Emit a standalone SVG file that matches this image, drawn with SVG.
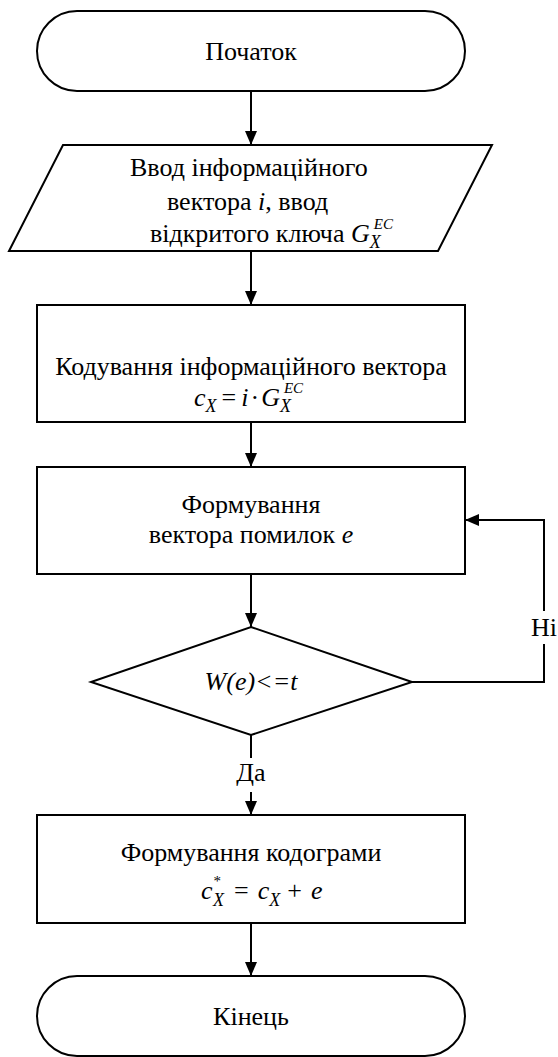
<svg xmlns="http://www.w3.org/2000/svg" width="558" height="1057" viewBox="0 0 558 1057">
<style>
.s{fill:none;stroke:#000;stroke-width:2}
.n{fill:#fff;stroke:#000;stroke-width:2}
text{font-family:'Liberation Serif','Times New Roman','DejaVu Serif',serif;font-size:26px;fill:#000}
.i{font-style:italic}
.c{text-anchor:middle}
.sm{font-size:18px}
.xs{font-size:15px}
</style>
<defs>
<marker id="ah" viewBox="0 0 14 12" refX="14" refY="6" markerWidth="14" markerHeight="12" markerUnits="userSpaceOnUse" orient="auto">
<path d="M0,0 L14,6 L0,12 Z" fill="#000"/>
</marker>
</defs>
<rect width="558" height="1057" fill="#fff"/>
<g id="connectors">
<line class="s" x1="251" y1="91" x2="251" y2="145" marker-end="url(#ah)"/>
<line class="s" x1="251" y1="251" x2="251" y2="305" marker-end="url(#ah)"/>
<line class="s" x1="251" y1="422" x2="251" y2="467" marker-end="url(#ah)"/>
<line class="s" x1="251" y1="574" x2="251" y2="627" marker-end="url(#ah)"/>
<line class="s" x1="251" y1="735" x2="251" y2="758"/>
<line class="s" x1="251" y1="792" x2="251" y2="815" marker-end="url(#ah)"/>
<text class="c" x="251" y="781">Да</text>
<polyline class="s" points="412,682 544,682 544,644"/>
<polyline class="s" points="544,611 544,520 465,520" marker-end="url(#ah)"/>
<text class="c" x="544" y="636">Ні</text>
<line class="s" x1="251" y1="923" x2="251" y2="976" marker-end="url(#ah)"/>
</g>
<g id="start">
<rect class="n" x="37" y="11" width="428" height="80" rx="40" ry="40"/>
<text class="c" x="251" y="60">Початок</text>
</g>
<g id="input">
<polygon class="n" points="63,145 492,145 438,251 9,251"/>
<text x="130" y="176">Ввод інформаційного</text>
<text x="167" y="210">вектора <tspan class="i">i</tspan>, ввод</text>
<text x="150" y="242">відкритого ключа <tspan class="i">G</tspan><tspan class="i sm" dy="6">X</tspan><tspan class="i xs" dx="-7" dy="-19">EC</tspan></text>
</g>
<g id="encode">
<rect class="n" x="37" y="305" width="428" height="117"/>
<text class="c" x="251" y="375">Кодування інформаційного вектора</text>
<text x="194" y="406"><tspan class="i">c</tspan><tspan class="i sm" dy="6">X</tspan><tspan dx="5" dy="-6">=</tspan><tspan class="i" dx="5">i</tspan><tspan dx="2">·</tspan><tspan class="i" dx="2">G</tspan><tspan class="i sm" dy="6">X</tspan><tspan class="i xs" dx="-7" dy="-19">EC</tspan></text>
</g>
<g id="errors">
<rect class="n" x="37" y="467" width="428" height="107"/>
<text class="c" x="251" y="513">Формування</text>
<text class="c" x="251" y="543">вектора помилок <tspan class="i">e</tspan></text>
</g>
<g id="check">
<polygon class="n" points="251,627 412,682 251,735 91,682"/>
<text class="i c" x="251" y="690">W(e)&lt;=t</text>
</g>
<g id="codegram">
<rect class="n" x="37" y="815" width="428" height="108"/>
<text class="c" x="251" y="861">Формування кодограми</text>
<text x="201" y="899"><tspan class="i">c</tspan><tspan class="xs" dx="1" dy="-13">*</tspan><tspan class="i sm" dx="-8" dy="20">X</tspan><tspan dx="10" dy="-7">=</tspan><tspan class="i" dx="9">c</tspan><tspan class="i sm" dy="7">X</tspan><tspan dx="7" dy="-7">+</tspan><tspan class="i" dx="9">e</tspan></text>
</g>
<g id="end">
<rect class="n" x="37" y="976" width="428" height="80" rx="40" ry="40"/>
<text class="c" x="251" y="1025">Кінець</text>
</g>
</svg>
